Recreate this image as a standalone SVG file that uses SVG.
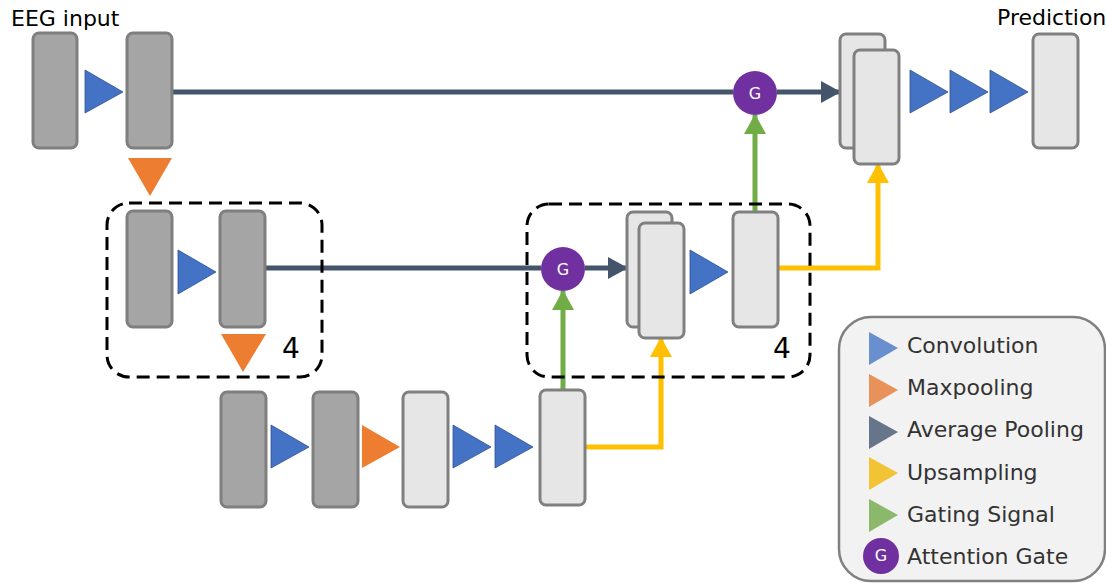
<svg xmlns="http://www.w3.org/2000/svg" width="1106" height="583" viewBox="0 0 1106 583">
<style>
.dk{fill:#a5a5a5;stroke:#7f7f7f;stroke-width:3}
.lt{fill:#e6e6e6;stroke:#808080;stroke-width:3}
.cv{fill:#4472c4;stroke:#2f528f;stroke-width:0.8}
.mp{fill:#ed7d31}
.box{fill:none;stroke:#000;stroke-width:3;stroke-dasharray:13 7}
.skip{stroke:#44546a;stroke-width:5;fill:none}
.gate{stroke:#70ad47;stroke-width:5;fill:none}
.up{stroke:#ffc000;stroke-width:5;fill:none}
.g{fill:#7030a0}
.gt{fill:#fff;font-family:"DejaVu Sans",sans-serif;font-size:16px;text-anchor:middle}
.lbl{font-family:"DejaVu Sans",sans-serif;font-size:22px;fill:#000}
.num{font-family:"DejaVu Sans",sans-serif;font-size:28px;fill:#000}
.leg{font-family:"DejaVu Sans",sans-serif;font-size:22px;fill:#333}
</style>
<defs>
<marker id="ad" markerWidth="4" markerHeight="4.4" refX="3.8" refY="2.2" orient="auto" markerUnits="strokeWidth"><path d="M0,0 L4,2.2 L0,4.4 Z" fill="#44546a"/></marker>
<marker id="ag" markerWidth="4" markerHeight="4.4" refX="3.8" refY="2.2" orient="auto" markerUnits="strokeWidth"><path d="M0,0 L4,2.2 L0,4.4 Z" fill="#70ad47"/></marker>
<marker id="ay" markerWidth="4" markerHeight="4.4" refX="3.8" refY="2.2" orient="auto" markerUnits="strokeWidth"><path d="M0,0 L4,2.2 L0,4.4 Z" fill="#ffc000"/></marker>
</defs>

<g id="connectors">
<line class="skip" x1="172" y1="92" x2="733" y2="92"/>
<line class="skip" x1="777" y1="92" x2="840" y2="92" marker-end="url(#ad)"/>
<line class="skip" x1="266" y1="268" x2="541" y2="268"/>
<line class="skip" x1="585" y1="268" x2="627" y2="268" marker-end="url(#ad)"/>
<line class="gate" x1="755" y1="212" x2="755" y2="115" marker-end="url(#ag)"/>
<line class="gate" x1="563" y1="389" x2="563" y2="291" marker-end="url(#ag)"/>
<polyline class="up" points="778,268 878,268 878,164" marker-end="url(#ay)"/>
<polyline class="up" points="585,447 661,447 661,338" marker-end="url(#ay)"/>
</g>

<g id="labels">
<text class="lbl" x="11" y="26">EEG input</text>
<text class="lbl" x="997" y="25">Prediction</text>
</g>

<g id="top-row">
<rect class="dk" x="33" y="33" width="44" height="115" rx="6"/>
<polygon class="cv" points="85,70 123,92 85,113"/>
<rect class="dk" x="127" y="33" width="45" height="115" rx="6"/>
<polygon class="mp" points="128,158 172,158 150,196"/>
</g>

<g id="gate-top">
<circle class="g" cx="755" cy="93" r="22"/>
<text class="gt" x="755" y="99">G</text>
</g>

<g id="decoder-top">
<rect class="lt" x="840" y="34" width="45" height="114" rx="6"/>
<rect class="lt" x="854" y="50" width="45" height="114" rx="6"/>
<polygon class="cv" points="910,70 948,92 910,113"/>
<polygon class="cv" points="950,70 988,92 950,113"/>
<polygon class="cv" points="990,70 1028,92 990,113"/>
<rect class="lt" x="1033" y="34" width="45" height="114" rx="6"/>
</g>

<g id="encoder-mid">
<rect class="box" x="107" y="203" width="215" height="174" rx="22"/>
<rect class="dk" x="127" y="211" width="45" height="116" rx="6"/>
<polygon class="cv" points="178,250 216,272 178,294"/>
<rect class="dk" x="220" y="211" width="45" height="116" rx="6"/>
<polygon class="mp" points="221,334 266,334 243,372"/>
<text class="num" x="282" y="358">4</text>
</g>

<g id="decoder-mid">
<rect class="box" x="527" y="204" width="283" height="173" rx="22"/>
<rect class="lt" x="627" y="212" width="45" height="115" rx="6"/>
<rect class="lt" x="639" y="223" width="45" height="115" rx="6"/>
<polygon class="cv" points="690,250 728,272 690,294"/>
<rect class="lt" x="733" y="212" width="45" height="115" rx="6"/>
<text class="num" x="773" y="358">4</text>
</g>

<g id="gate-mid">
<circle class="g" cx="563" cy="269" r="22"/>
<text class="gt" x="563" y="275">G</text>
</g>

<g id="bottleneck">
<rect class="dk" x="221" y="392" width="45" height="115" rx="6"/>
<polygon class="cv" points="271,425 309,447 271,468"/>
<rect class="dk" x="313" y="392" width="45" height="115" rx="6"/>
<polygon class="mp" points="362,425 400,447 362,468"/>
<rect class="lt" x="403" y="392" width="45" height="115" rx="6"/>
<polygon class="cv" points="453,425 491,447 453,468"/>
<polygon class="cv" points="495,425 533,447 495,468"/>
<rect class="lt" x="540" y="390" width="45" height="115" rx="6"/>
</g>

<g id="legend">
<rect x="839" y="317" width="266" height="264" rx="32" fill="#f2f2f2" stroke="#808080" stroke-width="2.5"/>
<polygon points="869,332 898,348 869,365" fill="#6a8fcf"/>
<text class="leg" x="907" y="353">Convolution</text>
<polygon points="869,374 898,390 869,407" fill="#e8915a"/>
<text class="leg" x="907" y="395">Maxpooling</text>
<polygon points="869,416 898,432 869,449" fill="#67758a"/>
<text class="leg" x="907" y="437">Average Pooling</text>
<polygon points="869,457 898,473 869,490" fill="#f2c335"/>
<text class="leg" x="907" y="480">Upsampling</text>
<polygon points="869,499 898,515 869,532" fill="#8cb86b"/>
<text class="leg" x="907" y="522">Gating Signal</text>
<circle cx="881" cy="556" r="18" fill="#7030a0"/>
<text class="gt" x="881" y="561" font-size="14">G</text>
<text class="leg" x="907" y="564">Attention Gate</text>
</g>
</svg>
